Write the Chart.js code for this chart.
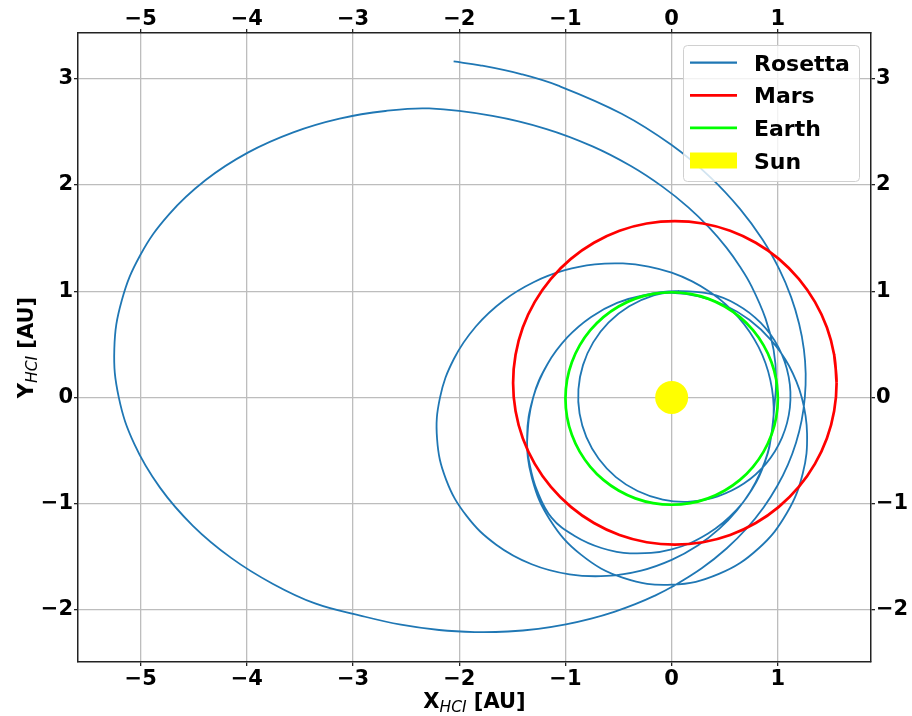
<!DOCTYPE html>
<html>
<head>
<meta charset="utf-8">
<script src="https://cdn.jsdelivr.net/npm/chart.js@4.4.0/dist/chart.umd.min.js"></script>
<style>
  html, body { margin: 0; padding: 0; background: #fff; }
</style>
</head>
<body>
<canvas id="orbits" width="912" height="716"></canvas>
<script>
// axis limits and ticks (AU, HCI frame)
const xLimits = [-5.59, 1.877];
const yLimits = [-2.49, 3.43];
const xTickValues = [-5, -4, -3, -2, -1, 0, 1];
const yTickValues = [-2, -1, 0, 1, 2, 3];

const launchOrbit = [
  [0.070, 1.002], [-0.169, 0.961], [-0.400, 0.858], [-0.593, 0.706], [-0.739, 0.518],
  [-0.835, 0.304], [-0.878, 0.077], [-0.867, -0.153], [-0.803, -0.374], [-0.687, -0.577],
  [-0.525, -0.750], [-0.321, -0.881], [-0.084, -0.962], [0.173, -0.981], [0.434, -0.931],
  [0.680, -0.811], [0.889, -0.623], [1.039, -0.378], [1.113, -0.097], [1.102, 0.194],
  [1.007, 0.469], [0.837, 0.703], [0.613, 0.875], [0.355, 0.976], [0.035, 1.000]
];
const toMars = [
  [-0.258, 0.964], [-0.514, 0.890], [-0.758, 0.758], [-0.981, 0.567], [-1.170, 0.313],
  [-1.304, 0.000], [-1.361, -0.365], [-1.315, -0.760], [-1.148, -1.148], [-0.854, -1.479],
  [-0.455, -1.698], [0.000, -1.762], [0.445, -1.661], [0.820, -1.419], [1.086, -1.086],
  [1.235, -0.713], [1.275, -0.342], [1.225, 0.000], [1.106, 0.296], [0.936, 0.540],
  [0.731, 0.731], [0.501, 0.868], [0.255, 0.952], [0.000, 0.984], [-0.258, 0.964],
  [-0.514, 0.890], [-0.758, 0.758], [-0.981, 0.567], [-1.170, 0.313], [-1.304, 0.000],
  [-1.361, -0.416]
];
const marsToEarth = [
  [-1.335, -0.640], [-1.270, -0.870], [-1.131, -1.131], [-0.913, -1.304], [-0.661, -1.417],
  [-0.393, -1.467], [0.000, -1.429], [0.343, -1.281], [0.611, -1.059], [0.797, -0.797],
  [0.906, -0.523], [0.940, -0.342]
];
const twoYearLoop = [
  [0.960, -0.169], [0.955, 0.000], [0.929, 0.164], [0.884, 0.322], [0.819, 0.473],
  [0.735, 0.617], [0.631, 0.752], [0.507, 0.878], [0.361, 0.992], [0.193, 1.092],
  [0.000, 1.174], [-0.217, 1.232], [-0.459, 1.261], [-0.723, 1.252], [-1.005, 1.198],
  [-1.296, 1.087], [-1.582, 0.913], [-1.842, 0.670], [-2.051, 0.362], [-2.181, 0.000],
  [-2.209, -0.389], [-2.124, -0.773], [-1.931, -1.115], [-1.652, -1.386], [-1.318, -1.570],
  [-0.962, -1.665], [-0.612, -1.680], [-0.287, -1.630], [0.000, -1.529], [0.246, -1.394],
  [0.450, -1.235], [0.614, -1.063], [0.742, -0.884], [0.837, -0.703], [0.904, -0.522],
  [0.940, -0.342]
];
const outboundArc = [
  [0.967, -0.085], [0.984, 0.174], [0.960, 0.448], [0.884, 0.742], [0.744, 1.062],
  [0.642, 1.233], [0.514, 1.412], [0.354, 1.598], [0.157, 1.789], [-0.087, 1.984],
  [-0.384, 2.178], [-0.745, 2.363], [-1.178, 2.526], [-1.688, 2.650]
];
const aphelionArc = [
  [-2.283, 2.720], [-2.696, 2.696], [-3.127, 2.624], [-3.563, 2.495], [-3.991, 2.304],
  [-4.388, 2.046], [-4.733, 1.723], [-5.003, 1.341], [-5.178, 0.913], [-5.248, 0.459],
  [-5.206, 0.000], [-5.058, -0.442], [-4.818, -0.849], [-4.508, -1.208], [-4.148, -1.510],
  [-3.758, -1.753], [-3.358, -1.939]
];
const cometArc = [
  [-2.932, -2.053], [-2.549, -2.139], [-2.189, -2.189], [-1.853, -2.208], [-1.542, -2.203],
  [-1.257, -2.178], [-0.996, -2.136], [-0.758, -2.082], [-0.541, -2.018], [-0.343, -1.946],
  [-0.163, -1.868], [0.000, -1.785], [0.283, -1.608], [0.517, -1.422], [0.710, -1.229],
  [0.867, -1.033], [0.994, -0.834], [1.095, -0.632], [1.171, -0.426], [1.224, -0.216],
  [1.254, 0.000], [1.262, 0.222], [1.245, 0.453], [1.200, 0.693], [1.125, 0.944],
  [1.013, 1.207], [0.857, 1.484], [0.645, 1.773], [0.365, 2.072], [0.000, 2.375],
  [-0.471, 2.670], [-1.068, 2.934], [-1.419, 3.043], [-1.805, 3.126], [-2.053, 3.162]
];

// planet orbits [x, y]
const marsOrbit = [
  [1.553, 0.137], [1.530, 0.402], [1.462, 0.658], [1.349, 0.899], [1.197, 1.116], [1.009, 1.304],
  [0.792, 1.456], [0.551, 1.569], [0.295, 1.637], [0.030, 1.660], [-0.235, 1.637], [-0.491, 1.569],
  [-0.732, 1.456], [-0.949, 1.304], [-1.137, 1.116], [-1.289, 0.899], [-1.402, 0.658], [-1.470, 0.402],
  [-1.493, 0.137], [-1.470, -0.128], [-1.402, -0.384], [-1.289, -0.625], [-1.137, -0.842], [-0.949, -1.030],
  [-0.732, -1.182], [-0.491, -1.295], [-0.235, -1.363], [0.030, -1.386], [0.295, -1.363], [0.551, -1.295],
  [0.792, -1.182], [1.009, -1.030], [1.197, -0.842], [1.349, -0.625], [1.462, -0.384], [1.530, -0.128],
  [1.553, 0.137], [1.530, 0.402]
];
const earthOrbit = [
  [1.000, -0.010], [0.985, 0.164], [0.940, 0.332], [0.866, 0.490], [0.766, 0.633], [0.643, 0.756],
  [0.500, 0.856], [0.342, 0.930], [0.174, 0.975], [0.000, 0.990], [-0.174, 0.975], [-0.342, 0.930],
  [-0.500, 0.856], [-0.643, 0.756], [-0.766, 0.633], [-0.866, 0.490], [-0.940, 0.332], [-0.985, 0.164],
  [-1.000, -0.010], [-0.985, -0.184], [-0.940, -0.352], [-0.866, -0.510], [-0.766, -0.653], [-0.643, -0.776],
  [-0.500, -0.876], [-0.342, -0.950], [-0.174, -0.995], [0.000, -1.010], [0.174, -0.995], [0.342, -0.950],
  [0.500, -0.876], [0.643, -0.776], [0.766, -0.653], [0.866, -0.510], [0.940, -0.352], [0.985, -0.184],
  [1.000, -0.010], [0.985, 0.164]
];
const sunPosition = [[0, 0]];

const toPoints = arr => arr.map(p => ({ x: p[0], y: p[1] }));
const rosettaPath = [].concat(launchOrbit, toMars, marsToEarth, twoYearLoop,
  outboundArc, aphelionArc, cometArc);

const FONT = 'DejaVu Sans';
const tickFont = { family: FONT, size: 21, weight: 'bold' };
const minusFmt = v => (v < 0 ? '\u2212' + Math.abs(v) : String(v));

function axis(position, limits, ticksList, size, onChart, pad) {
  const horizontal = position === 'top' || position === 'bottom';
  return {
    type: 'linear',
    position: position,
    min: limits[0],
    max: limits[1],
    afterBuildTicks: s => { s.ticks = ticksList.map(v => ({ value: v })); },
    afterFit: s => { if (horizontal) s.height = size; else s.width = size; },
    grid: {
      display: true,
      drawOnChartArea: onChart,
      color: '#bdbdbd',
      lineWidth: 1.3,
      tickColor: '#222',
      tickLength: 4,
      tickWidth: 1.3
    },
    border: { display: true, color: '#222', width: 1.5 },
    ticks: {
      font: tickFont,
      color: '#000',
      padding: pad,
      maxRotation: 0,
      autoSkip: false,
      callback: minusFmt
    }
  };
}

// legend drawn inside the axes, matplotlib style
const legendEntries = [
  { label: 'Rosetta', color: '#1f77b4', kind: 'line', width: 2.2 },
  { label: 'Mars', color: '#ff0000', kind: 'line', width: 2.7 },
  { label: 'Earth', color: '#00ff00', kind: 'line', width: 2.7 },
  { label: 'Sun', color: '#ffff00', kind: 'patch' }
];
const boxLegend = {
  id: 'boxLegend',
  afterDatasetsDraw(chart) {
    const ctx = chart.ctx;
    const x0 = 683.5, y0 = 45.5, w = 176, h = 136, r = 4;
    ctx.save();
    ctx.beginPath();
    ctx.moveTo(x0 + r, y0);
    ctx.arcTo(x0 + w, y0, x0 + w, y0 + h, r);
    ctx.arcTo(x0 + w, y0 + h, x0, y0 + h, r);
    ctx.arcTo(x0, y0 + h, x0, y0, r);
    ctx.arcTo(x0, y0, x0 + w, y0, r);
    ctx.closePath();
    ctx.fillStyle = 'rgba(255,255,255,0.8)';
    ctx.fill();
    ctx.strokeStyle = '#d0d0d0';
    ctx.lineWidth = 1;
    ctx.stroke();
    ctx.font = 'bold 22px "' + FONT + '"';
    ctx.textBaseline = 'alphabetic';
    ctx.textAlign = 'left';
    legendEntries.forEach((e, i) => {
      const base = 70.7 + i * 32.6;
      const mid = base - 8;
      if (e.kind === 'line') {
        ctx.strokeStyle = e.color;
        ctx.lineWidth = e.width;
        ctx.beginPath();
        ctx.moveTo(690, mid);
        ctx.lineTo(737, mid);
        ctx.stroke();
      } else {
        ctx.fillStyle = e.color;
        ctx.fillRect(690, mid - 8, 47, 16);
      }
      ctx.fillStyle = '#000';
      ctx.fillText(e.label, 754, base);
    });
    ctx.restore();
  }
};

// axis titles with the HCI subscript
const subTitles = {
  id: 'subTitles',
  afterDraw(chart) {
    const ctx = chart.ctx;
    const parts = [
      { t: 'X', f: 'bold 21px "' + FONT + '"', dy: 0 },
      { t: 'HCI', f: 'italic 15.5px "' + FONT + '"', dy: 3.5 },
      { t: ' [AU]', f: 'bold 21px "' + FONT + '"', dy: 0 }
    ];
    function drawTitle(cx, baseY, first) {
      const list = parts.map(p => Object.assign({}, p));
      list[0].t = first;
      let total = 0;
      list.forEach(p => { ctx.font = p.f; p.w = ctx.measureText(p.t).width; total += p.w; });
      let x = cx - total / 2;
      list.forEach(p => {
        ctx.font = p.f;
        ctx.fillText(p.t, x, baseY + p.dy);
        x += p.w;
      });
    }
    ctx.save();
    ctx.fillStyle = '#000';
    ctx.textBaseline = 'alphabetic';
    ctx.textAlign = 'left';
    const area = chart.chartArea;
    drawTitle((area.left + area.right) / 2, 708, 'X');
    ctx.translate(33, (area.top + area.bottom) / 2);
    ctx.rotate(-Math.PI / 2);
    drawTitle(0, 0, 'Y');
    ctx.restore();
  }
};

new Chart(document.getElementById('orbits'), {
  type: 'scatter',
  data: {
    datasets: [
      {
        label: 'Sun',
        data: toPoints(sunPosition),
        backgroundColor: '#ffff00',
        borderWidth: 0,
        pointRadius: 16.5,
        pointHoverRadius: 16.5,
        showLine: false,
        order: 0
      },
      {
        label: 'Earth',
        data: toPoints(earthOrbit),
        borderColor: '#00ff00',
        borderWidth: 2.7,
        pointRadius: 0,
        showLine: true,
        tension: 0.4,
        order: 1
      },
      {
        label: 'Mars',
        data: toPoints(marsOrbit),
        borderColor: '#ff0000',
        borderWidth: 2.7,
        pointRadius: 0,
        showLine: true,
        tension: 0.4,
        order: 2
      },
      {
        label: 'Rosetta',
        data: toPoints(rosettaPath),
        borderColor: '#1f77b4',
        borderWidth: 1.8,
        pointRadius: 0,
        showLine: true,
        tension: 0.4,
        order: 3
      }
    ]
  },
  options: {
    responsive: false,
    devicePixelRatio: 1,
    animation: false,
    layout: { padding: 0 },
    plugins: {
      legend: { display: false },
      tooltip: { enabled: false }
    },
    scales: {
      x: axis('bottom', xLimits, xTickValues, 54, true, 1),
      xTop: axis('top', xLimits, xTickValues, 33, false, -3),
      y: axis('left', yLimits, yTickValues, 78, true, 1),
      yRight: axis('right', yLimits, yTickValues, 41, false, 1)
    }
  },
  plugins: [boxLegend, subTitles]
});
</script>
</body>
</html>
